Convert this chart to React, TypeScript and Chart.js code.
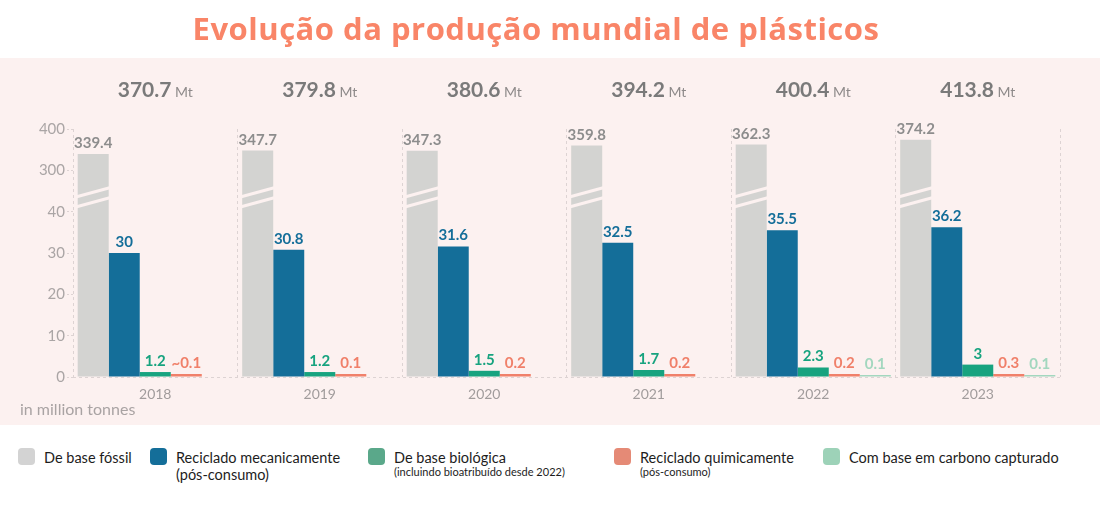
import React, { useEffect, useRef } from "react";
import { Chart, registerables } from "chart.js";

Chart.register(...registerables);

// ---------- data ----------
const years = ["2018", "2019", "2020", "2021", "2022", "2023"];
const fossil = [339.4, 347.7, 347.3, 359.8, 362.3, 374.2];
const mechRecycled = [30, 30.8, 31.6, 32.5, 35.5, 36.2];
const bioBased = [1.2, 1.2, 1.5, 1.7, 2.3, 3];
const chemRecycled = [0.1, 0.1, 0.2, 0.2, 0.2, 0.3];
const carbonCaptured: (number | null)[] = [null, null, null, null, 0.1, 0.1];
const chemLabels = ["~0.1", "0.1", "0.2", "0.2", "0.2", "0.3"];
const totals = ["370.7", "379.8", "380.6", "394.2", "400.4", "413.8"];
const yTickLabels = ["0", "10", "20", "30", "40", "300", "400"];
const seriesNames = [
  "De base fóssil",
  "Reciclado mecanicamente",
  "De base biológica",
  "Reciclado quimicamente",
  "Com base em carbono capturado",
];
const legendSub = ["", "(pós-consumo)", "(incluindo bioatribuído desde 2022)", "(pós-consumo)", ""];
const title = "Evolução da produção mundial de plásticos";
const unitNote = "in million tonnes";

// ---------- styles ----------
const barColors = ["#d3d3d1", "#146e99", "#17a37f", "#f0806a", "#a3d7bf"];
const labelColors = ["#8d8d8d", "#146e99", "#17a37f", "#f0806a", "#a3d7bf"];
const legendColors = ["#d3d3d3", "#146e99", "#5aa88a", "#e58a76", "#9dd2b8"];
const PANEL = "#fcf1f0";
const FONT = "Lato, 'Open Sans', sans-serif";
const TITLE_FONT = "'Open Sans', Lato, sans-serif";
const BREAK_AT = 43.5; // axis units where the fossil bars are "broken"

// broken axis: 0..40 linear, then 300 -> 50, 400 -> 60
const toAxis = (v: number | null) => (v == null ? null : v <= 40 ? v : 50 + (v - 300) / 10);

const series = [fossil, mechRecycled, bioBased, chemRecycled, carbonCaptured];

const decorPlugin = {
  id: "decor",
  beforeDraw(chart: any) {
    const { ctx, width, height } = chart;
    ctx.save();
    ctx.fillStyle = "#ffffff";
    ctx.fillRect(0, 0, width, height);
    ctx.fillStyle = PANEL;
    ctx.fillRect(0, 58, width, height - 58);
    ctx.fillStyle = "#f98568";
    ctx.font = `bold 31px ${TITLE_FONT}`;
    try {
      (ctx as any).letterSpacing = "0.5px";
    } catch (e) {}
    ctx.textAlign = "center";
    ctx.textBaseline = "alphabetic";
    ctx.fillText(title, 536, 40);
    try {
      (ctx as any).letterSpacing = "0px";
    } catch (e) {}
    ctx.restore();
  },
  afterDatasetsDraw(chart: any) {
    const { ctx } = chart;
    const xs = chart.scales.x;
    const ys = chart.scales.y;
    ctx.save();
    // break marks on fossil bars
    const fm = chart.getDatasetMeta(0);
    const yb = ys.getPixelForValue(BREAK_AT);
    ctx.strokeStyle = PANEL;
    ctx.lineWidth = 3;
    fm.data.forEach((bar: any) => {
      const { x, width } = bar.getProps(["x", "width"], true);
      const l = x - width / 2 - 1;
      const r = x + width / 2 + 1;
      [-5, 5].forEach((d) => {
        ctx.beginPath();
        ctx.moveTo(l, yb + 4.5 + d);
        ctx.lineTo(r, yb - 4.5 + d);
        ctx.stroke();
      });
    });
    // value labels
    ctx.textAlign = "center";
    ctx.textBaseline = "alphabetic";
    ctx.font = `bold 15px ${FONT}`;
    series.forEach((vals, i) => {
      const meta = chart.getDatasetMeta(i);
      meta.data.forEach((bar: any, j: number) => {
        const v = vals[j];
        if (v == null) return;
        const { x, y } = bar.getProps(["x", "y"], true);
        const txt = i === 3 ? chemLabels[j] : String(v);
        ctx.fillStyle = labelColors[i];
        ctx.fillText(txt, x, y - 6);
      });
    });
    // totals
    totals.forEach((t, j) => {
      const cx = xs.getPixelForValue(j);
      ctx.font = `bold 21px ${FONT}`;
      const w1 = ctx.measureText(t).width;
      ctx.font = `14px ${FONT}`;
      const w2 = ctx.measureText(" Mt").width;
      const start = cx - (w1 + w2) / 2;
      ctx.textAlign = "left";
      ctx.fillStyle = "#7a7a7a";
      ctx.font = `bold 21px ${FONT}`;
      ctx.fillText(t, start, 97);
      ctx.fillStyle = "#8e8a8a";
      ctx.font = `14px ${FONT}`;
      ctx.fillText(" Mt", start + w1, 97);
    });
    // unit note
    ctx.textAlign = "left";
    ctx.fillStyle = "#a9a3a3";
    ctx.font = `16px ${FONT}`;
    ctx.fillText(unitNote, 20, 415);
    ctx.restore();
  },
};

export default function App() {
  const ref = useRef<HTMLCanvasElement>(null);
  useEffect(() => {
    if (!ref.current) return;
    const chart = new Chart(ref.current, {
      type: "bar",
      data: {
        labels: years,
        datasets: series.map((vals, i) => ({
          label: seriesNames[i],
          data: vals.map(toAxis),
          backgroundColor: barColors[i],
          borderWidth: 0,
          minBarLength: i >= 3 ? (i === 3 ? 3 : 2) : 0,
          categoryPercentage: 0.943,
          barPercentage: 1,
        })),
      },
      options: {
        animation: false,
        responsive: false,
        maintainAspectRatio: false,
        layout: { padding: { top: 129, right: 40, left: 0, bottom: 0 } },
        plugins: {
          legend: { display: false },
          tooltip: { enabled: false },
          title: { display: false },
        },
        scales: {
          x: {
            type: "category",
            offset: true,
            grid: {
              offset: true,
              color: (c: any) => (c.index === years.length ? "rgba(0,0,0,0)" : "#ddd3d3"),
              drawTicks: false,
            },
            border: { display: false, dash: [3, 3] },
            ticks: { font: { size: 14, family: FONT }, color: "#a19c9c", padding: 9 },
            afterFit: (s: any) => {
              s.height = 48;
            },
          },
          y: {
            min: 0,
            max: 60,
            ticks: {
              stepSize: 10,
              callback: (_v: any, i: number) => yTickLabels[i],
              font: { size: 15, family: FONT },
              color: "#aaa5a5",
              padding: 2,
            },
            grid: {
              color: (c: any) => (c.tick && c.tick.value === 0 ? "#ddd3d3" : "rgba(0,0,0,0)"),
              tickColor: "#ddd3d3",
              tickLength: 6,
              tickBorderDash: [2, 2],
            },
            border: { display: false, dash: [3, 3] },
            afterFit: (s: any) => {
              s.width = 73;
            },
          },
        },
      },
      plugins: [decorPlugin],
    } as any);
    return () => chart.destroy();
  }, []);

  const squareLeft = [18, 150, 368, 614, 823];
  return (
    <div style={{ position: "absolute", left: 0, top: 0, width: 1100, height: 506, background: "#fff", fontFamily: FONT }}>
      <canvas ref={ref} width={1100} height={425} style={{ display: "block", width: 1100, height: 425 }} />
      <div style={{ position: "absolute", left: 0, top: 425, width: 1100, height: 81, background: "#fff" }}>
        {seriesNames.map((n, i) => (
          <div key={n} style={{ position: "absolute", left: squareLeft[i], top: 23 }}>
            <div style={{ position: "absolute", left: 0, top: 0, width: 17, height: 17, borderRadius: 4, background: legendColors[i] }} />
            <div style={{ position: "absolute", left: 26, top: 2, whiteSpace: "nowrap", color: "#1d1d1d", lineHeight: "16px" }}>
              <div style={{ fontSize: 14.5 }}>{n}</div>
              {legendSub[i] ? (
                <div style={{ fontSize: i === 1 ? 14.5 : 11, lineHeight: i === 1 ? "17px" : "12px" }}>{legendSub[i]}</div>
              ) : null}
            </div>
          </div>
        ))}
      </div>
    </div>
  );
}
